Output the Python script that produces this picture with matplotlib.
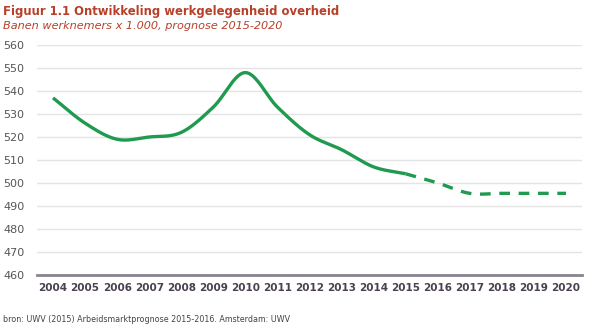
import numpy as np
import matplotlib
matplotlib.use("Agg")
import matplotlib.pyplot as plt

years = [2004, 2005, 2006, 2007, 2008, 2009, 2010, 2011, 2012, 2013, 2014, 2015, 2016, 2017, 2018, 2019, 2020]
actual = [537, 526, 519, 520, 522, 533, 548, 533, 521, 514.5, 507, 504]
forecast = [504, 500, 495.5, 495.5, 495.5, 495.5]
yticks = [460, 470, 480, 490, 500, 510, 520, 530, 540, 550, 560]

title = "Figuur 1.1 Ontwikkeling werkgelegenheid overheid"
subtitle = "Banen werknemers x 1.000, prognose 2015-2020"
source = "bron: UWV (2015) Arbeidsmarktprognose 2015-2016. Amsterdam: UWV"

GREEN = "#1f9a4f"


def smooth(x, y, n=20):
    x = np.asarray(x, float)
    y = np.asarray(y, float)
    if len(x) < 3:
        return x, y
    # Catmull-Rom spline
    px = np.concatenate([[2 * x[0] - x[1]], x, [2 * x[-1] - x[-2]]])
    py = np.concatenate([[2 * y[0] - y[1]], y, [2 * y[-1] - y[-2]]])
    xs, ys = [], []
    t = np.linspace(0, 1, n, endpoint=False)
    for i in range(1, len(px) - 2):
        for p, out in ((px, xs), (py, ys)):
            p0, p1, p2, p3 = p[i - 1], p[i], p[i + 1], p[i + 2]
            v = 0.5 * ((2 * p1) + (-p0 + p2) * t + (2 * p0 - 5 * p1 + 4 * p2 - p3) * t ** 2
                       + (-p0 + 3 * p1 - 3 * p2 + p3) * t ** 3)
            out.extend(v)
    xs.append(x[-1])
    ys.append(y[-1])
    return np.array(xs), np.array(ys)


fig = plt.figure(figsize=(5.97, 3.30), dpi=100)
ax = fig.add_axes([37 / 597, 1 - 275 / 330, (582 - 37) / 597, (275 - 45) / 330])

xa = np.arange(len(actual))
xf = np.arange(len(actual) - 1, len(actual) - 1 + len(forecast))
sx, sy = smooth(xa, actual)
ax.plot(sx, sy, color=GREEN, lw=2.4, solid_capstyle="butt")
fx, fy = smooth(xf, forecast)
ax.plot(fx, fy, color=GREEN, lw=2.4, linestyle=(0, (3.2, 2.6)), dash_capstyle="butt")

ax.set_xlim(-0.5, len(years) - 0.5)
ax.set_ylim(460, 560)
ax.set_yticks(yticks)
ax.set_yticklabels([str(v) for v in yticks], fontsize=8, color="#555555")
ax.set_xticks(np.arange(len(years)))
ax.set_xticklabels([str(y) for y in years], fontsize=7.5, fontweight="bold", color="#4a4050")
ax.tick_params(axis="both", length=0)
ax.tick_params(axis="y", pad=9)
ax.tick_params(axis="x", pad=6)
for v in yticks[1:]:
    ax.axhline(v, color="#e4e4e4", lw=1, zorder=0)
for s in ["top", "right", "left"]:
    ax.spines[s].set_visible(False)
ax.spines["bottom"].set_color("#8a8290")
ax.spines["bottom"].set_linewidth(2)

fig.text(3 / 597, 1 - 12 / 330, title, fontsize=8.4, fontweight="bold", color="#b8402a", va="center")
fig.text(3 / 597, 1 - 26 / 330, subtitle, fontsize=8.1, style="italic", color="#b8402a", va="center")
fig.text(3 / 597, 1 - 320 / 330, source, fontsize=6.4, fontstretch="condensed",
         family="DejaVu Sans", color="#444444", va="center")

fig.savefig("out.png", dpi=100)
